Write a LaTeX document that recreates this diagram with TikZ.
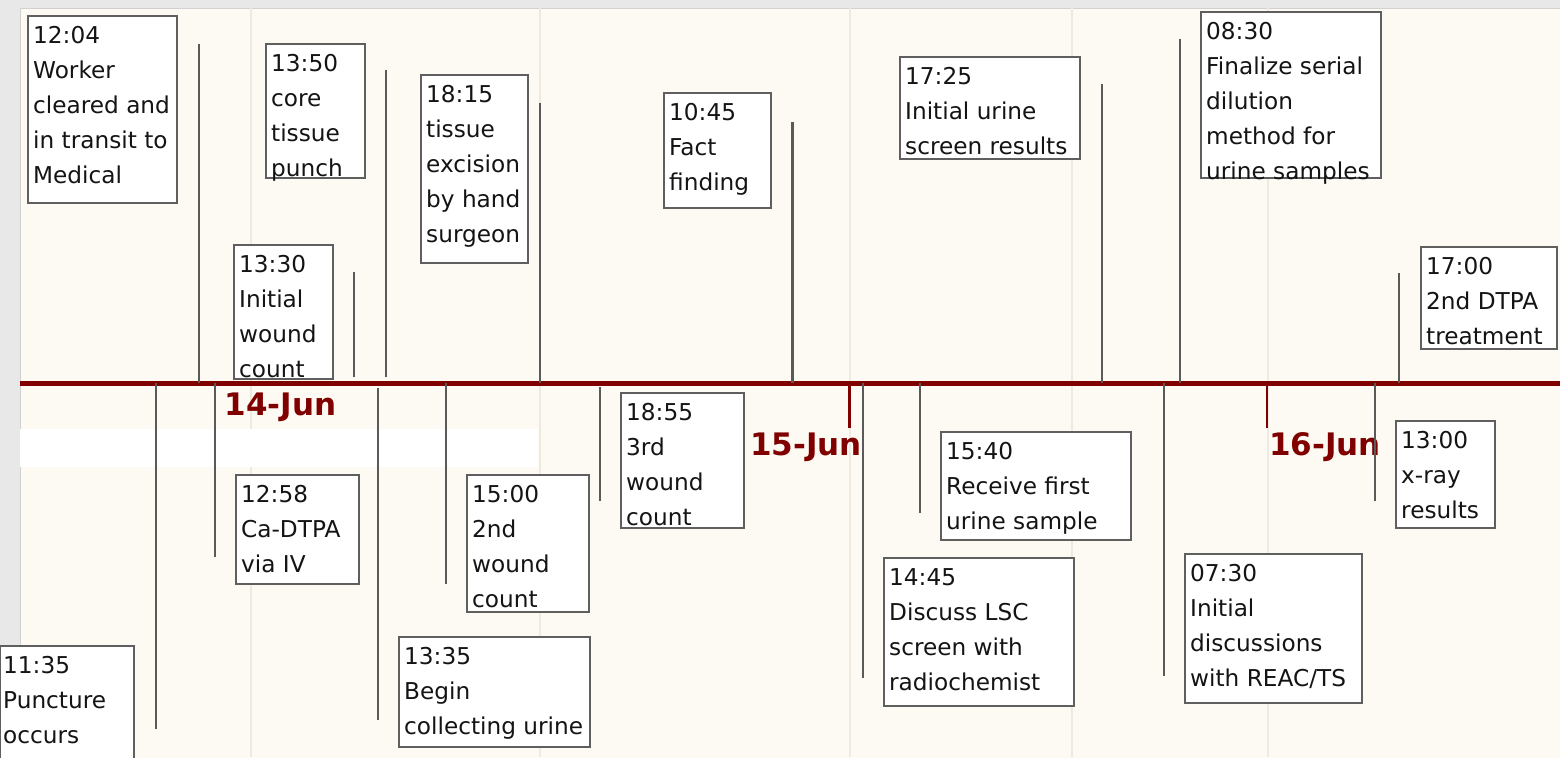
\documentclass[tikz,border=0pt]{standalone}
\usepackage{fontspec}
\setmainfont{DejaVu Sans}
\usepackage{tikz}
\usetikzlibrary{fit}

\definecolor{pagegray}{HTML}{E8E8E8}
\definecolor{panelcream}{HTML}{FDFAF3}
\definecolor{gridcream}{HTML}{EFEAE1}
\definecolor{boxgray}{HTML}{5F5F5F}
\definecolor{stemgray}{HTML}{5A5A5A}
\definecolor{datered}{HTML}{800000}

\newcommand{\evfont}{\fontsize{11.6}{17.5}\selectfont}
\newcommand{\datefont}{\fontsize{15.5}{16}\selectfont\bfseries}

\begin{document}
\begin{tikzpicture}[
  x=0.5pt, y=-0.5pt,
  evbox/.style={draw=boxgray,line width=1.2pt,fill=white,inner sep=0pt},
  evtext/.style={anchor=north west,inner sep=0pt,align=left,font=\evfont,text=black!92},
  stem/.style={draw=stemgray,line width=1.25pt},
  gridline/.style={draw=gridcream,line width=0.6pt},
  axisline/.style={draw=datered,line width=2.4pt},
  dayline/.style={draw=datered,line width=1.1pt},
  daylabel/.style={text=datered,font=\datefont,inner sep=0pt}
]
  \useasboundingbox (0,0) rectangle (1560,757);
  % panel and grid
  \fill[pagegray] (0,0) rectangle (1560,757);
  \filldraw[fill=panelcream,draw=black!18,line width=0.5pt] (20,8) rectangle (1562,760);
  \draw[gridline] (251,8) -- (251,757);
  \draw[gridline] (540,8) -- (540,757);
  \draw[gridline] (850,8) -- (850,757);
  \draw[gridline] (1072,8) -- (1072,757);
  \draw[gridline] (1268,8) -- (1268,757);
  \fill[white] (20,429) rectangle (538,467);

  % time axis and days
  \draw[axisline] (20,383.5) -- (1560,383.5);
  \draw[dayline] (849.5,383) -- (849.5,428);
  \draw[dayline] (1267,383) -- (1267,428);
  \node[daylabel] (d14) at (280.5,407) {14-Jun};
  \node[daylabel] (d15) at (806,447) {15-Jun};
  \node[daylabel] (d16) at (1325,447) {16-Jun};

  % stems above the axis
  \draw[stem] (199,383) -- (199,44);
  \draw[stem] (354,377) -- (354,272);
  \draw[stem] (386,377) -- (386,70);
  \draw[stem] (540,383) -- (540,103);
  \draw[stem] (792.5,383) -- (792.5,122);
  \draw[stem] (1102,383) -- (1102,84);
  \draw[stem] (1180,383) -- (1180,39);
  \draw[stem] (1399,383) -- (1399,273);
  % stems below the axis
  \draw[stem] (156,383) -- (156,729);
  \draw[stem] (215,383) -- (215,557);
  \draw[stem] (378,388) -- (378,720);
  \draw[stem] (446,383) -- (446,584);
  \draw[stem] (600,387) -- (600,501);
  \draw[stem] (863,383) -- (863,678);
  \draw[stem] (920,383) -- (920,513);
  \draw[stem] (1164,383) -- (1164,676);
  \draw[stem] (1375,383) -- (1375,501);

  % events, 14-Jun
  \node[evbox,fit={(0,646) (134,762)}] (b1135) {};
  \node[evtext] (t1135) at ([shift={(4,11)}]b1135.north west) {11:35\\Puncture\\occurs};
  \node[evbox,fit={(28,16) (177,203)}] (b1204) {};
  \node[evtext] (t1204) at ([shift={(6,11)}]b1204.north west) {12:04\\Worker\\cleared and\\in transit to\\Medical};
  \node[evbox,fit={(236,475) (359,584)}] (b1258) {};
  \node[evtext] (t1258) at ([shift={(6,11)}]b1258.north west) {12:58\\Ca-DTPA\\via IV};
  \node[evbox,fit={(234,245) (333,379)}] (b1330) {};
  \node[evtext] (t1330) at ([shift={(6,11)}]b1330.north west) {13:30\\Initial\\wound\\count};
  \node[evbox,fit={(399,637) (590,747)}] (b1335) {};
  \node[evtext] (t1335) at ([shift={(6,11)}]b1335.north west) {13:35\\Begin\\collecting urine};
  \node[evbox,fit={(266,44) (365,178)}] (b1350) {};
  \node[evtext] (t1350) at ([shift={(6,11)}]b1350.north west) {13:50\\core\\tissue\\punch};
  \node[evbox,fit={(467,475) (589,612)}] (b1500) {};
  \node[evtext] (t1500) at ([shift={(6,11)}]b1500.north west) {15:00\\2nd\\wound\\count};
  \node[evbox,fit={(421,75) (528,263)}] (b1815) {};
  \node[evtext] (t1815) at ([shift={(6,11)}]b1815.north west) {18:15\\tissue\\excision\\by hand\\surgeon};
  \node[evbox,fit={(621,393) (744,528)}] (b1855) {};
  \node[evtext] (t1855) at ([shift={(6,11)}]b1855.north west) {18:55\\3rd\\wound\\count};

  % events, 15-Jun
  \node[evbox,fit={(664,93) (771,208)}] (b1045) {};
  \node[evtext] (t1045) at ([shift={(6,11)}]b1045.north west) {10:45\\Fact\\finding};
  \node[evbox,fit={(884,558) (1074,706)}] (b1445) {};
  \node[evtext] (t1445) at ([shift={(6,11)}]b1445.north west) {14:45\\Discuss LSC\\screen with\\radiochemist};
  \node[evbox,fit={(941,432) (1131,540)}] (b1540) {};
  \node[evtext] (t1540) at ([shift={(6,11)}]b1540.north west) {15:40\\Receive first\\urine sample};
  \node[evbox,fit={(900,57) (1080,159)}] (b1725) {};
  \node[evtext] (t1725) at ([shift={(6,11)}]b1725.north west) {17:25\\Initial urine\\screen results};

  % events, 16-Jun
  \node[evbox,fit={(1185,554) (1362,703)}] (b0730) {};
  \node[evtext] (t0730) at ([shift={(6,11)}]b0730.north west) {07:30\\Initial\\discussions\\with REAC/TS};
  \node[evbox,fit={(1201,12) (1381,178)}] (b0830) {};
  \node[evtext] (t0830) at ([shift={(6,11)}]b0830.north west) {08:30\\Finalize serial\\dilution\\method for\\urine samples};
  \node[evbox,fit={(1396,421) (1495,528)}] (b1300) {};
  \node[evtext] (t1300) at ([shift={(6,11)}]b1300.north west) {13:00\\x-ray\\results};
  \node[evbox,fit={(1421,247) (1557,349)}] (b1700) {};
  \node[evtext] (t1700) at ([shift={(6,11)}]b1700.north west) {17:00\\2nd DTPA\\treatment};
\end{tikzpicture}
\end{document}
